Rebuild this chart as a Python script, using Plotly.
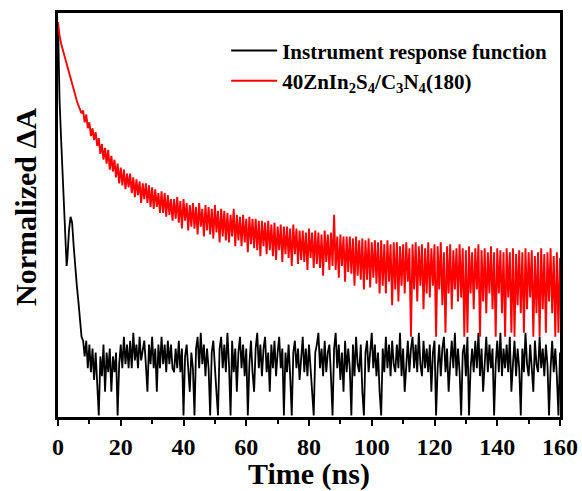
import numpy as np
import plotly.graph_objects as go

# ---- data ----
t_early = [0, 0.25, 0.5, 1.0, 1.5, 2.0, 2.5, 2.75, 3.0, 3.5, 4.0, 4.5, 5.0, 5.5, 6.0, 6.5, 7.0, 7.5]
irf_early = [1.0, 0.90, 0.80, 0.70, 0.60, 0.50, 0.41, 0.38, 0.40, 0.47, 0.505, 0.49, 0.43, 0.37, 0.33, 0.29, 0.24, 0.20]
sample_early = [1.0, 0.98, 0.965, 0.945, 0.93, 0.918, 0.90, 0.893, 0.885, 0.87, 0.855, 0.84, 0.826, 0.812, 0.80, 0.788, 0.777, 0.768]

t_start = 8.0
t_step = 0.5

irf_tail = [
    .19, .15, .19, .12, .18, .11, .17, .09, .16, .07,
    .00, .15, .10, .18, .06, .16, .11, .17, .06, .15,
    .11, .16, .00, .13, .18, .12, .20, .13, .18, .12,
    .19, .12, .21, .14, .18, .12, .20, .14, .17, .19,
    .13, .06, .18, .13, .20, .12, .17, .06, .18, .12,
    .20, .13, .18, .11, .19, .13, .18, .12, .11, .17,
    .12, .19, .11, .17, .00, .15, .18, .11, .06, .16,
    .12, .00, .17, .20, .12, .21, .13, .18, .10, .17,
    .12, .00, .16, .19, .11, .06, .00, .17, .20, .12,
    .18, .11, .21, .13, .00, .19, .11, .17, .06, .16,
    .20, .12, .18, .10, .17, .00, .13, .19, .11, .06,
    .17, .21, .12, .18, .10, .17, .20, .11, .16, .06,
    .18, .12, .19, .10, .16, .20, .12, .17, .00, .16,
    .11, .18, .10, .00, .16, .19, .12, .17, .09, .16,
    .20, .11, .17, .10, .18, .12, .06, .00, .16, .18,
    .21, .12, .17, .10, .19, .11, .16, .18, .10, .00,
    .17, .21, .12, .18, .09, .16, .06, .19, .11, .17,
    .12, .00, .18, .10, .20, .13, .11, .18, .06, .00,
    .16, .19, .11, .17, .21, .12, .18, .10, .16, .06,
    .00, .17, .11, .20, .12, .18, .10, .19, .13, .11,
    .18, .12, .21, .10, .17, .06, .13, .19, .11, .17,
    .20, .12, .18, .11, .21, .13, .10, .19, .12, .17,
    .11, .18, .06, .16, .19, .00, .12, .18, .10, .17,
    .20, .11, .17, .06, .13, .19, .12, .21, .10, .17,
    .11, .00, .16, .18, .10, .20, .00, .12, .17, .11,
    .19, .12, .21, .10, .17, .06, .13, .20, .11, .18,
    .12, .17, .00, .13, .19, .11, .21, .10, .17, .12,
    .18, .11, .20, .06, .13, .19, .10, .17, .12, .00,
    .17, .11, .21, .13, .10, .18, .12, .06, .19, .13,
    .11, .20, .12, .17, .10, .18, .13, .00, .12, .19,
    .11, .17, .10, .00, .16,
]

sample_tail = [
    .775, .745, .765, .73, .745, .71, .73, .70, .72, .685,
    .705, .665, .69, .65, .68, .64, .675, .625, .66, .62,
    .65, .605, .64, .59, .63, .585, .625, .575, .615, .58,
    .615, .565, .605, .555, .60, .56, .595, .54, .59, .55,
    .59, .54, .585, .53, .58, .525, .575, .53, .565, .515,
    .57, .515, .565, .505, .56, .51, .55, .495, .55, .50,
    .555, .49, .545, .475, .55, .495, .54, .47, .535, .48,
    .54, .475, .53, .46, .54, .48, .525, .455, .535, .47,
    .53, .46, .525, .45, .535, .465, .52, .44, .525, .455,
    .52, .445, .515, .44, .51, .455, .525, .43, .51, .445,
    .505, .43, .51, .44, .50, .415, .505, .435, .50, .425,
    .50, .42, .495, .405, .495, .43, .49, .41, .495, .42,
    .485, .405, .49, .395, .48, .42, .485, .39, .48, .41,
    .48, .40, .475, .38, .485, .41, .475, .385, .47, .395,
    .47, .39, .465, .37, .475, .40, .465, .375, .47, .385,
    .465, .375, .46, .355, .47, .39, .46, .37, .465, .38,
    .51, .37, .455, .35, .46, .38, .455, .34, .455, .365,
    .455, .36, .45, .33, .455, .355, .445, .345, .45, .32,
    .445, .345, .45, .325, .44, .35, .445, .335, .44, .31,
    .445, .33, .435, .31, .445, .34, .435, .28, .44, .32,
    .44, .29, .43, .33, .435, .31, .44, .34, .425, .20,
    .435, .32, .44, .29, .43, .33, .435, .27, .425, .31,
    .44, .30, .425, .33, .435, .20, .43, .32, .44, .28,
    .415, .21, .43, .31, .435, .27, .42, .32, .425, .29,
    .435, .30, .425, .20, .42, .21, .43, .31, .415, .27,
    .425, .32, .435, .20, .42, .29, .425, .26, .415, .31,
    .43, .27, .415, .20, .425, .31, .42, .26, .415, .20,
    .425, .30, .415, .21, .425, .20, .41, .28, .42, .26,
    .415, .21, .425, .27, .415, .30, .42, .20, .405, .26,
    .415, .20, .425, .27, .41, .21, .415, .29, .425, .26,
    .405, .20, .415, .21, .40,
]

x_ticks = [0, 20, 40, 60, 80, 100, 120, 140, 160]
name_irf = "<b>Instrument response function</b>"
name_sample = "<b>40ZnIn<sub>2</sub>S<sub>4</sub>/C<sub>3</sub>N<sub>4</sub>(180)</b>"
y_title = "<b>Normalized ΔA</b>"

# sampling grid of the recorded traces
t_irf = t_early + list(t_start + t_step * np.arange(len(irf_tail)))
t_sample = t_early + list(t_start + t_step * np.arange(len(sample_tail)))
y_irf = irf_early + irf_tail
y_sample = sample_early + sample_tail

FONT = "Liberation Serif"

fig = go.Figure()
fig.add_trace(go.Scatter(x=t_irf, y=y_irf, mode="lines", name=name_irf,
                         line=dict(color="#000000", width=1.8)))
fig.add_trace(go.Scatter(x=t_sample, y=y_sample, mode="lines", name=name_sample,
                         line=dict(color="#ff0000", width=1.9)))

fig.update_layout(
    width=582, height=491,
    margin=dict(l=58, r=22, t=13, b=74),
    paper_bgcolor="white", plot_bgcolor="white",
    font=dict(family=FONT, color="black"),
    showlegend=True,
    legend=dict(x=0.335, y=0.957, xanchor="left", yanchor="top",
                bgcolor="rgba(0,0,0,0)", font=dict(family=FONT, size=21, color="black"),
                tracegroupgap=0, itemwidth=46),
    annotations=[dict(text=y_title, textangle=-90, xref="paper", yref="paper",
                      x=-0.0637, y=0.52, xanchor="center", yanchor="middle",
                      showarrow=False, font=dict(family=FONT, size=30, color="black"))],
)
fig.update_xaxes(
    range=[0, 160], tickvals=x_ticks, ticktext=[str(v) for v in x_ticks],
    automargin=False,
    showline=True, linecolor="black", linewidth=2.5, mirror=True,
    ticks="outside", ticklen=6, tickwidth=2, tickcolor="black",
    minor=dict(dtick=10, ticks="outside", ticklen=4, tickwidth=2, tickcolor="black"),
    tickfont=dict(family=FONT, size=24, color="black", weight="bold"),
    showgrid=False, zeroline=False,
    title=dict(text="<b>Time (ns)</b>", font=dict(family=FONT, size=30, color="black"), standoff=6),
)
fig.update_yaxes(
    range=[-0.004, 1.023], automargin=False,
    showline=True, linecolor="black", linewidth=2.5, mirror=True,
    showticklabels=False, ticks="", showgrid=False, zeroline=False,
)

fig.write_html("out.html")
